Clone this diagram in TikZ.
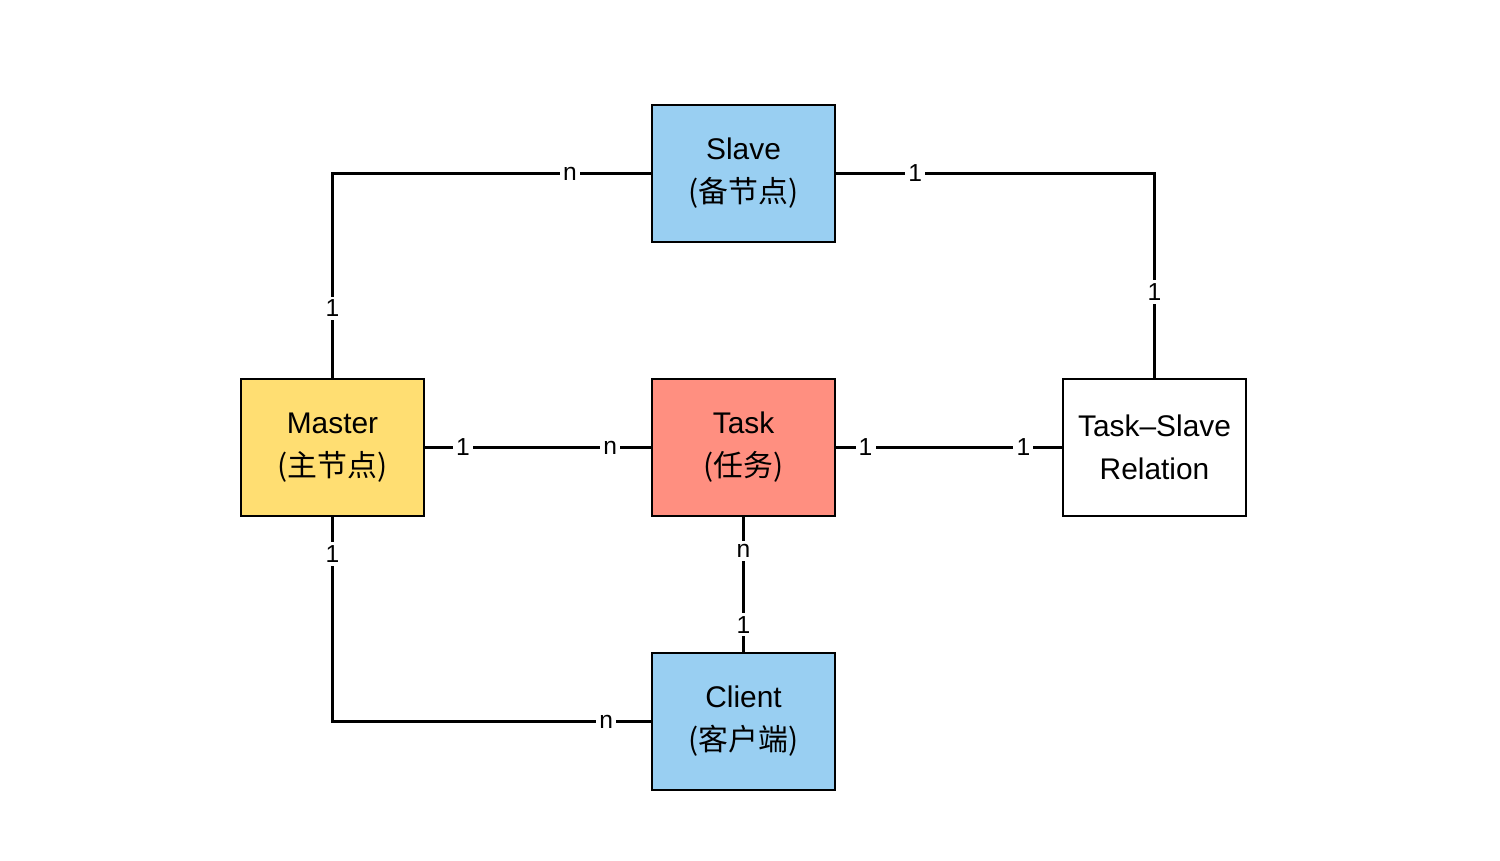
\documentclass[tikz,border=0pt]{standalone}
\usepackage{fontspec}
\setmainfont{Liberation Sans}
\newfontfamily\cjk{Noto Sans CJK SC}
\usetikzlibrary{positioning}

\definecolor{slaveblue}{RGB}{153,207,242}
\definecolor{masteryellow}{RGB}{255,222,114}
\definecolor{tasksalmon}{RGB}{255,143,128}

\tikzset{
  entity/.style = {draw, line width=1.4pt, minimum width=3.66cm, minimum height=2.74cm,
                   align=center, font=\fontsize{17pt}{24.5pt}\selectfont},
  card/.style   = {fill=white, inner sep=1.8pt, font=\fontsize{14pt}{15pt}\selectfont},
  rel/.style    = {line width=1.2pt}
}

\begin{document}
\begin{tikzpicture} [node distance = 5.48cm and 8.22cm, on grid]
        \useasboundingbox (0,0) rectangle (30,17.2);
        \node (master) [entity, fill=masteryellow] at (6.65,8.25) {Master\\{\cjk (主节点)}};
        \node (task) [entity, fill=tasksalmon, right = of master] {Task\\{\cjk (任务)}};
        \node (rel) [entity, fill=white, right = of task] {Task–Slave\\Relation};
        \node (slave) [entity, fill=slaveblue, above = of task] {Slave\\{\cjk (备节点)}};
        \node (client) [entity, fill=slaveblue, below = of task] {Client\\{\cjk (客户端)}};

        \draw [rel] (slave.west) -| node [card, pos=0.127] {n} node [card, pos=0.83] {1} (master.north);
        \draw [rel] (slave.east) -| node [card, pos=0.124] {1} node [card, pos=0.79] {1} (rel.north);
        \path [rel] (master) edge node [card, pos=0.167] {1} node [card, pos=0.82] {n} (task);
        \path [rel] (task) edge node [card, pos=0.13] {1} node [card, pos=0.83] {1} (rel);
        \path [rel] (task) edge node [card, pos=0.25] {n} node [card, pos=0.8] {1} (client);
        \draw [rel] (master.south) |- node [card, pos=0.09] {1} node [card, pos=0.93] {n} (client.west);
    \end{tikzpicture}
\end{document}
